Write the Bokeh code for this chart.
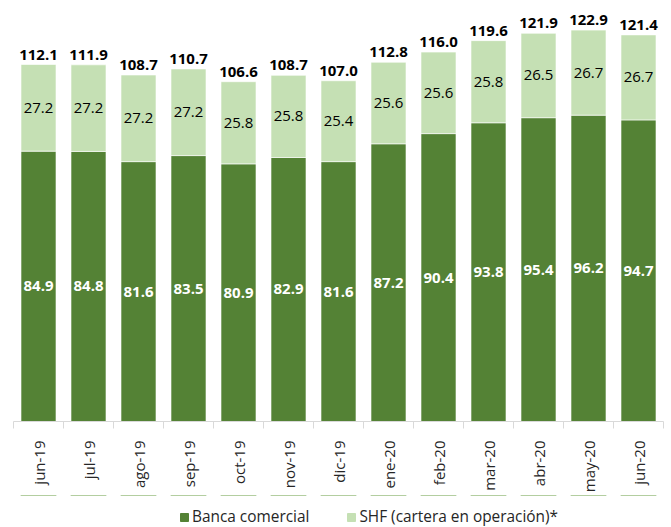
import math
from bokeh.plotting import figure
from bokeh.layouts import column
from bokeh.models import ColumnDataSource, Range1d, FixedTicker, Legend, LegendItem
from bokeh.core.properties import value
from bokeh.embed import file_html
from bokeh.resources import INLINE

months = ["jun-19", "jul-19", "ago-19", "sep-19", "oct-19", "nov-19", "dic-19",
          "ene-20", "feb-20", "mar-20", "abr-20", "may-20", "jun-20"]
banca = [84.9, 84.8, 81.6, 83.5, 80.9, 82.9, 81.6, 87.2, 90.4, 93.8, 95.4, 96.2, 94.7]
shf = [27.2, 27.2, 27.2, 27.2, 25.8, 25.8, 25.4, 25.6, 25.6, 25.8, 26.5, 26.7, 26.7]
totals = [112.1, 111.9, 108.7, 110.7, 106.6, 108.7, 107.0, 112.8, 116.0, 119.6, 121.9, 122.9, 121.4]
series_names = ["Banca comercial", "SHF (cartera en operación)*"]

DARK = "#548235"
LIGHT = "#C5E0B4"
FONT = "Open Sans"

xs = [i + 0.5 for i in range(len(months))]
tops = [b + s for b, s in zip(banca, shf)]

src = ColumnDataSource(dict(
    x=xs,
    banca=banca,
    shf=shf,
    top=tops,
    mid_b=[b / 2 for b in banca],
    mid_s=[b + s / 2 for b, s in zip(banca, shf)],
    lab_b=[f"{v:.1f}" for v in banca],
    lab_s=[f"{v:.1f}" for v in shf],
    lab_t=[f"{v:.1f}" for v in totals],
    zero=[0] * len(months),
))

p = figure(width=671, height=495, x_range=Range1d(0, 13), y_range=Range1d(0, 132.2),
           output_backend="svg", toolbar_location=None, y_axis_location=None,
           min_border_left=13, min_border_right=8, min_border_top=0, min_border_bottom=70)
p.outline_line_color = None
p.xgrid.visible = False
p.ygrid.visible = False

p.vbar(x="x", bottom="zero", top="banca", width=0.7, source=src,
       fill_color=DARK, line_color="white", line_width=0.6)
p.vbar(x="x", bottom="banca", top="top", width=0.7, source=src,
       fill_color=LIGHT, line_color="white", line_width=0.6)

p.text(x="x", y="mid_b", text="lab_b", source=src, text_align="center",
       text_baseline="middle", text_font=value(FONT), text_font_size="15px",
       text_font_style="bold", text_color="white")
p.text(x="x", y="mid_s", text="lab_s", source=src, text_align="center",
       text_baseline="middle", text_font=value(FONT), text_font_size="15px",
       text_color="black")
p.text(x="x", y="top", text="lab_t", source=src, text_align="center",
       text_baseline="alphabetic", y_offset=-10, text_font=value(FONT),
       text_font_size="15px", text_font_style="bold", text_color="black")

ax = p.xaxis[0]
ax.ticker = FixedTicker(ticks=xs, minor_ticks=list(range(len(months) + 1)))
ax.major_label_overrides = {x: m for x, m in zip(xs, months)}
ax.major_tick_out = 0
ax.major_tick_in = 0
ax.minor_tick_out = 7
ax.minor_tick_in = 0
ax.minor_tick_line_color = "#d9d9d9"
ax.axis_line_color = "#d9d9d9"
ax.major_label_orientation = math.pi / 2
ax.major_label_standoff = 12
ax.major_label_text_font = FONT
ax.major_label_text_font_size = "15px"
ax.major_label_text_color = "#262626"

# legend strip below the chart (same bar data, out of its visible range)
lf = figure(width=671, height=32, x_range=Range1d(0, 13), y_range=Range1d(-2, -1),
            output_backend="svg", toolbar_location=None,
            x_axis_location=None, y_axis_location=None,
            min_border_left=0, min_border_right=0, min_border_top=0, min_border_bottom=0)
lf.outline_line_color = None
lf.xgrid.visible = False
lf.ygrid.visible = False
g1 = lf.vbar(x="x", bottom="zero", top="banca", width=0.7, source=src,
             fill_color=DARK, line_color=DARK)
g2 = lf.vbar(x="x", bottom="banca", top="top", width=0.7, source=src,
             fill_color=LIGHT, line_color=LIGHT)

legend = Legend(items=[LegendItem(label=series_names[0], renderers=[g1]),
                       LegendItem(label=series_names[1], renderers=[g2])],
                orientation="horizontal", location=(166, 0),
                glyph_width=10, glyph_height=10, label_standoff=3, spacing=37,
                padding=0, margin=0, border_line_color=None, background_fill_alpha=0,
                label_text_font=FONT, label_text_font_size="15.4px",
                label_text_color="#262626")
lf.add_layout(legend)

layout = column(p, lf, spacing=0)
open("out.html", "w").write(file_html(layout, INLINE))
